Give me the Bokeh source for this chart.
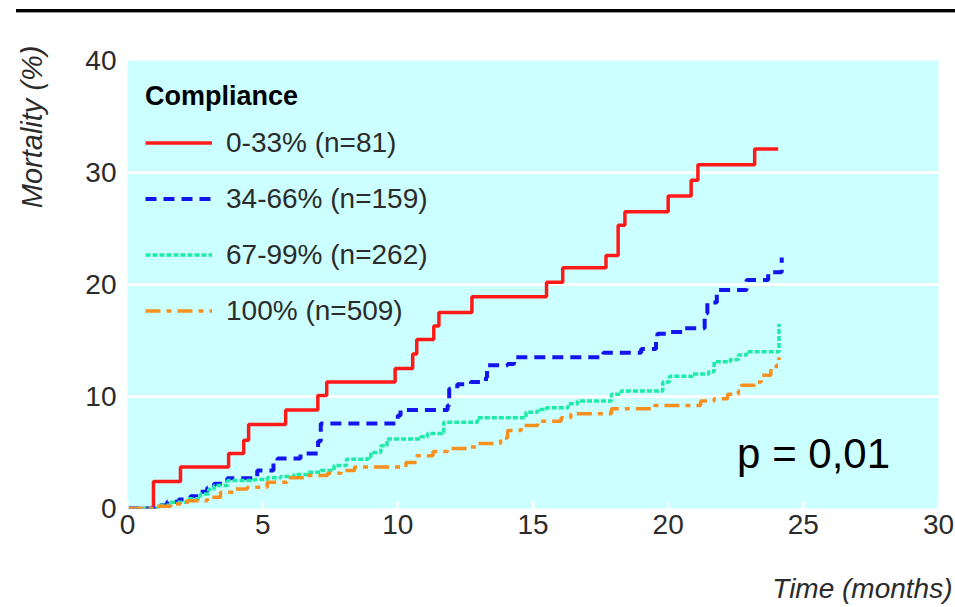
from bokeh.plotting import figure
from bokeh.models import Range1d, FixedTicker, Legend, LegendItem, Label, Div, Title, LinearAxis
from bokeh.layouts import column
from bokeh.embed import file_html
from bokeh.resources import INLINE

# ---- data ----
red_t = [0, 0.96, 1.96, 3.74, 4.3, 4.48, 5.85, 7.04, 7.37, 9.9, 10.55, 10.7, 11.33, 11.52, 12.74,
         15.5, 16.1, 17.7, 18.15, 18.4, 20.0, 20.85, 21.1, 23.2, 24.07]
red_v = [0, 2.4, 3.7, 4.9, 6.1, 7.5, 8.8, 10.1, 11.3, 12.5, 13.8, 15.1, 16.3, 17.5, 18.9,
         20.2, 21.5, 22.6, 25.3, 26.5, 27.9, 29.3, 30.7, 32.1, 32.1]

blue_t = [0, 1.04, 1.47, 1.9, 2.33, 2.7, 2.95, 3.2, 3.57, 3.69, 4.8, 5.4, 5.55, 6.4, 7.05, 7.15,
          10.0, 10.1, 11.84, 11.9, 12.2, 12.7, 13.26, 13.3, 14.06, 14.3, 17.6, 19.0, 19.55, 19.6,
          20.0, 20.6, 21.35, 21.45, 21.8, 22.9, 23.7, 24.2]
blue_v = [0, 0.3, 0.6, 0.8, 1.1, 1.5, 1.85, 2.2, 2.5, 2.7, 3.4, 4.1, 4.46, 4.9, 6.0, 7.6,
          8.3, 8.8, 9.2, 10.7, 11.1, 11.3, 11.7, 12.8, 12.9, 13.5, 13.9, 14.25, 14.9, 15.6,
          15.75, 16.1, 17.4, 18.4, 19.5, 20.4, 21.1, 22.4]

green_t = [0, 1.16, 1.6, 2.2, 2.7, 3.0, 3.2, 3.7, 4.68, 5.17, 5.67, 6.16, 6.65, 7.15, 7.64, 8.1,
           8.9, 9.0, 9.37, 9.6, 10.85, 11.1, 11.65, 11.7, 12.95, 14.74, 15.17, 15.5, 16.3, 16.65,
           17.9, 18.26, 19.8, 20.05, 20.9, 21.5, 21.7, 22.3, 22.6, 22.9, 24.1]
green_v = [0, 0.3, 0.56, 0.86, 1.3, 1.7, 2.05, 2.5, 2.6, 2.74, 2.86, 3.04, 3.24, 3.4, 3.85, 4.4,
           4.6, 5.0, 5.6, 6.2, 6.4, 6.7, 6.8, 7.7, 8.1, 8.6, 8.84, 9.0, 9.35, 9.6,
           10.2, 10.5, 11.3, 11.8, 12.0, 12.2, 13.1, 13.3, 13.7, 14.0, 16.5]

orange_t = [0, 1.1, 1.6, 2.2, 2.95, 3.44, 3.94, 4.43, 5.17, 5.9, 6.65, 7.4, 7.9, 8.4, 10.0, 10.3,
            10.7, 11.3, 11.84, 12.6, 12.95, 13.8, 14.06, 14.56, 15.17, 16.04, 16.4, 17.9, 19.5,
            21.2, 21.7, 22.2, 22.6, 22.7, 23.2, 23.44, 23.8, 24.0, 24.1]
orange_v = [0, 0.2, 0.4, 0.7, 1.0, 1.46, 1.75, 1.9, 2.35, 2.74, 2.95, 3.15, 3.4, 3.7, 3.7, 4.1,
            4.7, 5.1, 5.35, 5.5, 5.8, 6.3, 6.96, 7.4, 7.8, 8.1, 8.45, 8.9, 9.2,
            9.6, 9.8, 10.2, 10.5, 11.0, 11.3, 11.9, 12.5, 12.8, 13.5]

series_labels = ["0-33% (n=81)", "34-66% (n=159)", "67-99% (n=262)", "100% (n=509)"]
legend_title = "Compliance"
x_ticks = [0, 5, 10, 15, 20, 25, 30]
y_ticks = [0, 10, 20, 30, 40]
grid_ticks = [10, 20, 30]
x_label = "Time (months)"
y_label = "Mortality (%)"
p_text = "p = 0,01"
p_pos = (22.55, 2.85)

FONT = "Liberation Sans"
TXT = "#2b2b2b"

p = figure(width=955, height=593, output_backend="svg", toolbar_location=None,
           x_range=Range1d(0, 30), y_range=Range1d(0, 40),
           min_border_left=127, min_border_right=17, min_border_top=46, min_border_bottom=99)
p.background_fill_color = "#CCFFFF"
p.border_fill_color = "white"
p.outline_line_color = None

p.xgrid.visible = False
p.ygrid.ticker = FixedTicker(ticks=grid_ticks)
p.ygrid.grid_line_color = "white"
p.ygrid.grid_line_width = 3

p.xaxis.ticker = FixedTicker(ticks=x_ticks)
p.yaxis.ticker = FixedTicker(ticks=y_ticks)
for ax in (p.xaxis, p.yaxis):
    ax.axis_line_color = None
    ax.minor_tick_line_color = None
    ax.minor_tick_out = 0
    ax.major_label_text_font = FONT
    ax.major_label_text_font_size = "28px"
    ax.major_label_text_color = TXT
p.xaxis.major_tick_in = 7
p.xaxis.major_tick_out = 0
p.xaxis.major_tick_line_color = "white"
p.xaxis.major_tick_line_width = 2.5
p.xaxis.major_label_standoff = 6
p.yaxis.major_tick_line_color = None
p.yaxis.major_tick_in = 0
p.yaxis.major_tick_out = 0
p.yaxis.major_label_standoff = 11


def spacer_axis(size, tick):
    # axis with one hidden tick: it only reserves room between tick labels and axis title
    return LinearAxis(ticker=FixedTicker(ticks=[tick]), axis_line_color=None,
                      major_tick_line_color=None, minor_tick_line_color=None,
                      major_tick_in=0, major_tick_out=size, minor_tick_in=0, minor_tick_out=0,
                      major_label_standoff=0, major_label_text_font_size="1px",
                      major_label_overrides={tick: ""})


p.add_layout(spacer_axis(35, 15), "below")
p.add_layout(Title(text=x_label, align="right", offset=-14, vertical_align="middle", standoff=0,
                   text_font=FONT, text_font_style="italic", text_font_size="28px",
                   text_color=TXT), "below")
p.add_layout(spacer_axis(34, 20), "left")
p.add_layout(Title(text=y_label, align="right", offset=-15, vertical_align="middle", standoff=0,
                   text_font=FONT, text_font_style="italic", text_font_size="29px",
                   text_color=TXT), "left")

r_red = p.step(red_t, red_v, mode="after", line_color="#FF1A1A", line_width=3.5)
r_blue = p.step(blue_t, blue_v, mode="after", line_color="#1414EE", line_width=4, line_dash="11 7")
r_green = p.step(green_t, green_v, mode="after", line_color="#1EEBA8", line_width=3.5, line_dash="5 2")
r_orange = p.step(orange_t, orange_v, mode="after", line_color="#F7901E", line_width=3.5,
                  line_dash="15 6 5 6")

legend = Legend(items=[LegendItem(label=series_labels[0], renderers=[r_red]),
                       LegendItem(label=series_labels[1], renderers=[r_blue]),
                       LegendItem(label=series_labels[2], renderers=[r_green]),
                       LegendItem(label=series_labels[3], renderers=[r_orange])],
                location=(18, 179), title=legend_title,
                title_text_font=FONT, title_text_font_style="bold", title_text_font_size="27px",
                title_text_color="black", title_standoff=12,
                label_text_font=FONT, label_text_font_size="28px", label_text_color=TXT,
                glyph_width=67, glyph_height=37, label_height=37, label_standoff=14, spacing=19,
                padding=0, margin=0, background_fill_alpha=0, border_line_alpha=0)
p.add_layout(legend)

p.add_layout(Label(x=p_pos[0], y=p_pos[1], text=p_text, text_font=FONT,
                   text_font_size="42px", text_color="black"))

rule = Div(text="", width=955, height=14, margin=0,
           styles={"background-image": "linear-gradient(#000, #000), linear-gradient(#9a9a9a, #9a9a9a)",
                   "background-size": "939px 3px, 939px 1px",
                   "background-position": "16px 9px, 16px 12px",
                   "background-repeat": "no-repeat"})

layout = column(rule, p)
open("out.html", "w").write(file_html(layout, INLINE))
